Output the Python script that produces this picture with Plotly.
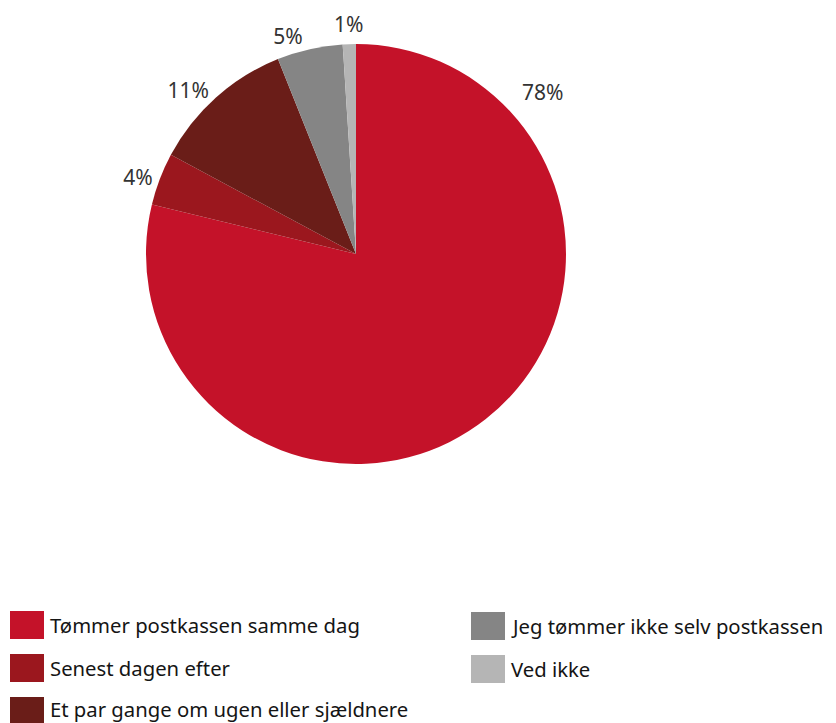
import math
import plotly.graph_objects as go

labels = ["Tømmer postkassen samme dag", "Senest dagen efter",
          "Et par gange om ugen eller sjældnere",
          "Jeg tømmer ikke selv postkassen", "Ved ikke"]
values = [78, 4, 11, 5, 1]
colors = ["#C41229", "#9B171E", "#6A1D18", "#858585", "#B5B5B5"]

W, H = 836, 723
OFF = 8  # page body margin of the html page
cx, cy, R = 356 - OFF, 254 - OFF, 210

textpos = ["none", "outside", "outside", "outside", "none"]

fig = go.Figure(go.Pie(
    labels=labels, values=values, sort=False, direction="clockwise", rotation=0,
    marker=dict(colors=colors, line=dict(color="white", width=0)),
    textposition=textpos, texttemplate="%{value}%",
    textfont=dict(family="Noto Sans", size=21, color="#333333"),
    showlegend=False, hoverinfo="label+value", automargin=False,
    domain=dict(x=[(cx - R) / W, (cx + R) / W], y=[1 - (cy + R) / H, 1 - (cy - R) / H]),
))

shapes, anns = [], []
total = sum(values)


def pct_label(i, ang_deg, dist):
    a = math.radians(ang_deg)
    anns.append(dict(text=f"{values[i]}%", xref="paper", yref="paper",
                     x=(cx + dist * math.sin(a)) / W, y=1 - (cy - dist * math.cos(a)) / H,
                     xanchor="center", yanchor="middle", showarrow=False,
                     font=dict(family="Noto Sans", size=21, color="#333333")))


# large slice label sits in the upper right in the original
pct_label(0, 49, R + 37)
# smallest slice: label straight out from the slice middle, no leader line
mid_last = (sum(values[:-1]) + values[-1] / 2) / total * 360
pct_label(len(values) - 1, mid_last, R + 20)

# custom column-major legend
legend_pos = [(10, 611), (10, 654), (10, 697), (471, 612), (471, 655)]
for k, ((x, y), lab, col) in enumerate(zip(legend_pos, labels, colors)):
    x -= OFF
    y -= OFF
    shapes.append(dict(type="rect", xref="paper", yref="paper",
                       x0=x / W, x1=(x + 34) / W, y0=1 - (y + 28) / H, y1=1 - y / H,
                       fillcolor=col, line=dict(width=0)))
    ty = y + 14 - (2 if k == 2 else 0)
    anns.append(dict(text=lab, xref="paper", yref="paper", x=(x + 38) / W, y=1 - ty / H,
                     xanchor="left", yanchor="middle", showarrow=False,
                     font=dict(family="Noto Sans", size=20.3, color="#151515")))

fig.update_layout(width=W, height=H, margin=dict(l=0, r=0, t=0, b=0, autoexpand=False),
                  showlegend=False,
                  paper_bgcolor="white", plot_bgcolor="white",
                  shapes=shapes, annotations=anns)
fig.write_html("out.html")
